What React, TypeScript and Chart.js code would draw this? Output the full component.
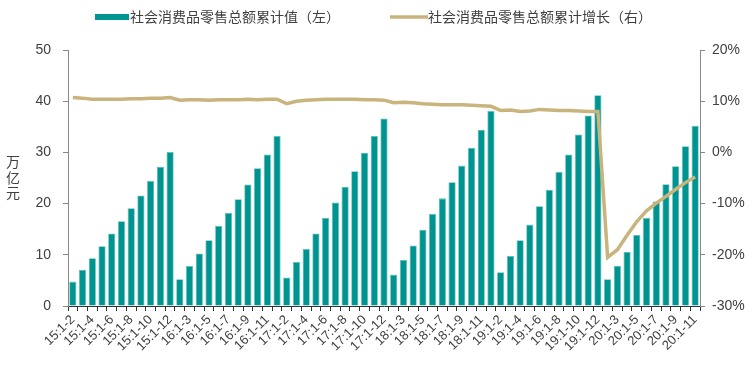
import React, { useEffect, useRef } from "react";
import { Chart, registerables } from "chart.js";

Chart.register(...registerables);

const years = ["15", "16", "17", "18", "19", "20"];
const periods = ["1-2", "1-3", "1-4", "1-5", "1-6", "1-7", "1-8", "1-9", "1-10", "1-11", "1-12"];

const total2015 = [4.77, 7.07, 9.32, 11.68, 14.16, 16.55, 19.08, 21.59, 24.41, 27.21, 30.09];
const total2016 = [5.23, 7.83, 10.25, 12.83, 15.61, 18.16, 20.87, 23.75, 26.9, 29.6, 33.23];
const total2017 = [5.58, 8.58, 11.12, 14.18, 17.24, 20.23, 23.28, 26.33, 29.93, 33.18, 36.63];
const total2018 = [6.13, 9.0, 11.82, 14.88, 18.0, 21.03, 24.16, 27.42, 30.92, 34.41, 38.1];
const total2019 = [6.6, 9.78, 12.84, 15.9, 19.5, 22.7, 26.2, 29.6, 33.5, 37.2, 41.16];
const total2020 = [5.21, 7.85, 10.6, 13.85, 17.2, 20.4, 23.8, 27.3, 31.2, 35.2];

const growth2015 = [10.7, 10.6, 10.4, 10.4, 10.4, 10.4, 10.5, 10.5, 10.6, 10.6, 10.7];
const growth2016 = [10.2, 10.3, 10.3, 10.2, 10.3, 10.3, 10.3, 10.4, 10.3, 10.4, 10.4];
const growth2017 = [9.5, 10.0, 10.2, 10.3, 10.4, 10.4, 10.4, 10.4, 10.3, 10.3, 10.2];
const growth2018 = [9.7, 9.8, 9.7, 9.5, 9.4, 9.3, 9.3, 9.3, 9.2, 9.1, 9.0];
const growth2019 = [8.2, 8.3, 8.0, 8.1, 8.4, 8.3, 8.2, 8.2, 8.1, 8.0, 8.0];
const growth2020 = [-20.5, -19.0, -16.2, -13.5, -11.4, -9.9, -8.6, -7.2, -5.9, -4.8];

const barLabel = "社会消费品零售总额累计值（左）";
const lineLabel = "社会消费品零售总额累计增长（右）";
const yTitle = ["万", "亿", "元"];

const BAR_COLOR = "#009490";
const LINE_COLOR = "#C8B47C";
const TEXT_COLOR = "#404040";
const FONT = "'Liberation Sans', Arial, 'Noto Sans CJK SC', sans-serif";
const CJK_FONT = "'Noto Sans CJK SC', 'Liberation Sans', sans-serif";

export default function App() {
  const ref = useRef<HTMLCanvasElement | null>(null);

  useEffect(() => {
    document.body.style.margin = "0";
    const labels: string[] = [];
    years.forEach((y) => {
      periods.forEach((p) => {
        if (y === "20" && p === "1-12") return;
        labels.push(`${y}:${p}`);
      });
    });
    const totals = [...total2015, ...total2016, ...total2017, ...total2018, ...total2019, ...total2020];
    const growth = [...growth2015, ...growth2016, ...growth2017, ...growth2018, ...growth2019, ...growth2020];

    const decor = {
      id: "decor",
      afterDraw(chart: any) {
        const ctx = chart.ctx;
        ctx.save();
        ctx.font = `14px ${CJK_FONT}`;
        ctx.textBaseline = "middle";
        ctx.textAlign = "left";
        ctx.fillStyle = BAR_COLOR;
        ctx.fillRect(95, 14, 34, 6);
        ctx.fillStyle = TEXT_COLOR;
        ctx.fillText(barLabel, 130, 17);
        ctx.strokeStyle = LINE_COLOR;
        ctx.lineWidth = 3.5;
        ctx.beginPath();
        ctx.moveTo(390, 17);
        ctx.lineTo(428, 17);
        ctx.stroke();
        ctx.fillText(lineLabel, 428, 17);
        ctx.textAlign = "center";
        yTitle.forEach((c, i) => {
          ctx.fillText(c, 13, 162 + i * 15.5);
        });
        ctx.restore();
      },
    };

    const chart = new Chart(ref.current as HTMLCanvasElement, {
      type: "bar",
      data: {
        labels,
        datasets: [
          {
            type: "line",
            label: lineLabel,
            data: growth,
            yAxisID: "y1",
            borderColor: LINE_COLOR,
            backgroundColor: LINE_COLOR,
            borderWidth: 3.5,
            pointRadius: 0,
            tension: 0,
            order: 0,
          } as any,
          {
            type: "bar",
            label: barLabel,
            data: totals,
            yAxisID: "y",
            backgroundColor: BAR_COLOR,
            borderColor: "#5FC0BA",
            borderWidth: 0.8,
            categoryPercentage: 1,
            barPercentage: 0.74,
            order: 1,
          },
        ],
      },
      options: {
        animation: false,
        responsive: false,
        layout: { padding: { top: 50, left: 0, right: 0, bottom: 0 } },
        plugins: { legend: { display: false }, tooltip: { enabled: false } },
        scales: {
          x: {
            offset: true,
            grid: {
              offset: true,
              drawOnChartArea: false,
              drawTicks: true,
              tickLength: 5,
              color: "#333",
            },
            border: { color: "#333", width: 1 },
            ticks: {
              autoSkip: false,
              maxRotation: 45,
              minRotation: 45,
              padding: 1,
              color: TEXT_COLOR,
              font: { size: 13, family: FONT },
              callback: (_v: any, i: number) => (i % 2 === 0 ? labels[i] : ""),
            },
            afterFit: (s: any) => {
              s.height = 61;
            },
          },
          y: {
            position: "left",
            min: 0,
            max: 50,
            grid: { drawOnChartArea: false, tickLength: 5, color: "#888" },
            border: { color: "#888", width: 1 },
            ticks: {
              stepSize: 10,
              padding: 12,
              color: TEXT_COLOR,
              font: { size: 14, family: FONT },
            },
            afterFit: (s: any) => {
              s.width = 68;
            },
          },
          y1: {
            position: "right",
            min: -30,
            max: 20,
            grid: { drawOnChartArea: false, tickLength: 5, color: "#888" },
            border: { color: "#888", width: 1 },
            ticks: {
              stepSize: 10,
              padding: 7,
              color: TEXT_COLOR,
              font: { size: 14, family: FONT },
              callback: (v: any) => `${v}%`,
            },
            afterFit: (s: any) => {
              s.width = 56;
            },
          },
        },
      },
      plugins: [decor],
    });
    return () => chart.destroy();
  }, []);

  return (
    <div style={{ width: 756, height: 367 }}>
      <canvas ref={ref} width={756} height={367} style={{ display: "block" }} />
    </div>
  );
}
